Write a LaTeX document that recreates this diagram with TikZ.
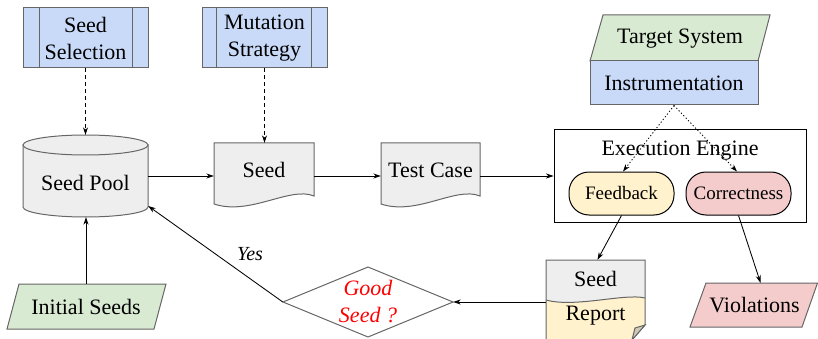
\documentclass[tikz,border=0pt]{standalone}
\usepackage{fontspec}
\setmainfont{Liberation Serif}
\usetikzlibrary{arrows.meta}
\definecolor{bluef}{HTML}{C9DAF8}
\definecolor{greenf}{HTML}{D9EAD3}
\definecolor{grayf}{HTML}{EEEEEE}
\definecolor{yellowf}{HTML}{FFF2CC}
\definecolor{pinkf}{HTML}{F4CCCC}
\definecolor{bordc}{HTML}{666666}
\definecolor{foldc}{HTML}{CFC9B6}
\begin{document}
\begin{tikzpicture}[x=1pt,y=-1pt,
  every node/.style={font=\fontsize{22}{26}\selectfont, inner sep=0pt, align=center},
  shp/.style={draw=bordc, line width=1pt},
  arr/.style={-{Stealth[length=7.5pt,width=5pt]}, line width=0.85pt},
  dasharr/.style={arr, dash pattern=on 4pt off 3pt},
  dotarr/.style={arr, dash pattern=on 1.2pt off 2.2pt},
  smalltext/.style={font=\fontsize{19}{22}\selectfont},
  twoline/.style={font=\fontsize{22}{27}\selectfont}]
\useasboundingbox (0,0) rectangle (818,339);

% Seed Selection
\node[shp, fill=bluef, minimum width=125, minimum height=60, twoline] (sel) at (85.5,38) {Seed\\Selection};
\draw[bordc, line width=1pt] ([xshift=17pt]sel.north west) -- ([xshift=17pt]sel.south west)
  ([xshift=-16pt]sel.north east) -- ([xshift=-16pt]sel.south east);

% Mutation Strategy
\node[shp, fill=bluef, minimum width=125, minimum height=60, twoline] (mut) at (264.5,38) {Mutation\\Strategy};
\draw[bordc, line width=1pt] ([xshift=15pt]mut.north west) -- ([xshift=15pt]mut.south west)
  ([xshift=-16pt]mut.north east) -- ([xshift=-16pt]mut.south east);

% Seed Pool cylinder
\draw[shp, fill=grayf] (23,145) -- (23,207) .. controls (23,212.5) and (51,217) .. (85.5,217)
  .. controls (120,217) and (148,212.5) .. (148,207) -- (148,145) -- cycle;
\draw[shp, fill=grayf] (85.5,145) ellipse [x radius=62.5, y radius=10];
\node[minimum width=125, minimum height=82] (pool) at (85.5,176) {};
\node (pooltxt) at (85.5,183) {Seed Pool};

% Seed document
\draw[shp, fill=grayf] (214,143) -- (314,143) -- (314,196) .. controls (290,186) and (250,216) .. (214,204) -- cycle;
\node[minimum width=100, minimum height=66] (seed) at (264,176) {};
\node (seedtxt) at (264,170) {Seed};

% Test Case document
\draw[shp, fill=grayf] (381,143) -- (480,143) -- (480,196) .. controls (456,186) and (417,216) .. (381,204) -- cycle;
\node[minimum width=99, minimum height=66] (test) at (430.5,176) {};
\node (testtxt) at (430.5,170) {Test Case};

% Execution engine
\node[draw, line width=1pt, minimum width=252, minimum height=92] (exec) at (680,176) {};
\node (exectxt) at (680,151) {Execution Engine};
\node[draw, line width=1pt, fill=yellowf, rounded corners=20pt, minimum width=105, minimum height=43, smalltext] (fb) at (621.5,193.5) {Feedback};
\node[draw, line width=1pt, fill=pinkf, rounded corners=20pt, minimum width=105, minimum height=43, smalltext] (cor) at (738.5,193.5) {Correctness};

% Target system / Instrumentation
\draw[shp, fill=greenf] (603,15) -- (770,15) -- (758,61) -- (590,61) -- cycle;
\node (target) at (680,39) {Target System};
\node[shp, fill=bluef, minimum width=168, minimum height=44] (instr) at (674,83) {Instrumentation};

% Seed Report
\fill[grayf] (546,260) -- (645,260) -- (645,298) .. controls (625,293) and (575,308) .. (546,300) -- cycle;
\fill[yellowf] (546,300) .. controls (575,308) and (625,293) .. (645,298) -- (645,325) -- (632,340) -- (546,340) -- cycle;
\draw[bordc, line width=1pt] (546,300) .. controls (575,308) and (625,293) .. (645,298);
\draw[shp] (632,340) -- (546,340) -- (546,260) -- (645,260) -- (645,325) -- cycle;
\draw[shp, fill=foldc] (632,340) -- (635,328) -- (645,325) -- cycle;
\node[minimum width=99, minimum height=78] (rep) at (595.5,299) {};
\node (reptop) at (595.5,279) {Seed};
\node (repbot) at (595.5,316) {Report};

% Violations
\draw[shp, fill=pinkf] (706,283) -- (817.5,283) -- (802,327) -- (690,327) -- cycle;
\node[minimum height=44] (viol) at (754.5,305) {Violations};

% Initial Seeds
\draw[shp, fill=greenf] (19,284) -- (166,284) -- (154,329) -- (7,329) -- cycle;
\node[minimum height=45] (init) at (86,306.5) {Initial Seeds};

% Good Seed diamond
\draw[shp, fill=white] (368,267) -- (453,302) -- (368,337) -- (283,302) -- cycle;
\node[minimum width=170, minimum height=70, text=red, font=\fontsize{22}{27}\selectfont\itshape] (good) at (368,302) {Good\\Seed ?};

% connectors
\draw[dasharr] (sel.south) -- (sel.south |- pool.north);
\draw[dasharr] (mut.south) -- (mut.south |- seed.north);
\draw[arr] (pool.east) -- (seed.west);
\draw[arr] (seed.east) -- (test.west);
\draw[arr] (test.east) -- (exec.west);
\draw[dotarr] (instr.south) -- ([xshift=1.5pt]fb.north);
\draw[dotarr] (instr.south) -- ([xshift=-1.5pt]cor.north);
\draw[arr] (fb.south) -- ([xshift=2pt]rep.north);
\draw[arr] (cor.south) -- ([xshift=6pt]viol.north);
\draw[arr] (rep.west |- good.east) -- (good.east);
\draw[arr] (good.west) -- ([yshift=-30pt]pool.east);
\node[font=\fontsize{20}{24}\selectfont\itshape] (yes) at (250,254) {Yes};
\draw[arr] (init.north) -- (init.north |- pool.south);
\end{tikzpicture}
\end{document}
